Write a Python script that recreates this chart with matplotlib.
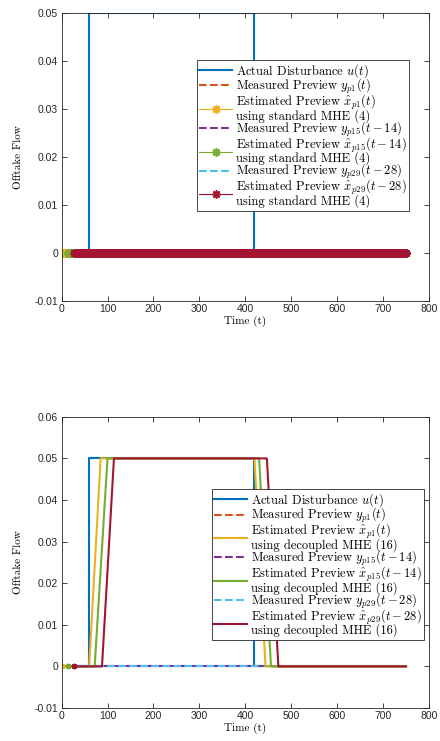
import numpy as np
import matplotlib
matplotlib.use("Agg")
import matplotlib.pyplot as plt
from matplotlib.lines import Line2D
from matplotlib.legend_handler import HandlerLine2D
from matplotlib.ticker import FixedLocator, FixedFormatter

plt.rcParams['mathtext.fontset'] = 'cm'
plt.rcParams['axes.unicode_minus'] = False

# ---------------- data ----------------
t_final = 750
# actual disturbance u(t): step breakpoints
u_t = [0, 60, 60, 420, 420, 750]
u_v = [0, 0, 0.05, 0.05, 0, 0]

# preview delays (start times of the shifted previews)
start_p1, start_p15, start_p29 = 0, 14, 28

# top panel: standard MHE estimates (all zero)
std_est_value = 0.0
# measured previews shown (zero)
meas_value = 0.0
meas_end_bottom = 437

# bottom panel: decoupled MHE estimates (breakpoints)
dec_p1_t = [0, 60, 85, 420, 444, 750]
dec_p1_v = [0, 0, 0.05, 0.05, 0, 0]
dec_p15_t = [14, 72, 100, 430, 456, 750]
dec_p15_v = [0, 0, 0.05, 0.05, 0, 0]
dec_p29_t = [28, 88, 114, 447, 472, 750]
dec_p29_v = [0, 0, 0.05, 0.05, 0, 0]

xticks = [0, 100, 200, 300, 400, 500, 600, 700, 800]
yticks_top = [-0.01, 0, 0.01, 0.02, 0.03, 0.04, 0.05]
yticks_bot = [-0.01, 0, 0.01, 0.02, 0.03, 0.04, 0.05, 0.06]
ytick_labels_top = ['-0.01', '0', '0.01', '0.02', '0.03', '0.04', '0.05']
ytick_labels_bot = ['-0.01', '0', '0.01', '0.02', '0.03', '0.04', '0.05', '0.06']

lab_u = 'Actual Disturbance $u(t)$'
lab_m1 = 'Measured Preview $y_{p1}(t)$'
lab_m15 = 'Measured Preview $y_{p15}(t-14)$'
lab_m29 = 'Measured Preview $y_{p29}(t-28)$'
lab_e1 = 'Estimated Preview $\\hat{x}_{p1}(t)$'
lab_e15 = 'Estimated Preview $\\hat{x}_{p15}(t-14)$'
lab_e29 = 'Estimated Preview $\\hat{x}_{p29}(t-28)$'
lab_std = 'using standard MHE (4)'
lab_dec = 'using decoupled MHE (16)'

# ---------------- style ----------------
C_BLUE = '#0072BD'
C_ORANGE = '#D95319'
C_YELLOW = '#EDB120'
C_PURPLE = '#7E2F8E'
C_GREEN = '#77AC30'
C_CYAN = '#4DBEEE'
C_RED = '#A2142F'
AX_COL = '#262626'
TXT_FONT = 'cmr10'
TICK_FONT = 'Liberation Sans'
FS_TXT = 8
FS_LEG = 9
FS_TICK = 7.5
ROW_SHIFT_PT = 5.35   # half a legend row, to centre handles of two-line entries


class ShiftedHandler(HandlerLine2D):
    def __init__(self, shift, **kw):
        super().__init__(**kw)
        self.shift = shift

    def create_artists(self, legend, orig_handle, xdescent, ydescent, width,
                       height, fontsize, trans):
        return super().create_artists(legend, orig_handle, xdescent,
                                      ydescent + 2 * self.shift, width, height,
                                      fontsize, trans)


fig = plt.figure(figsize=(4.40, 7.41), dpi=100)
ax1 = fig.add_axes([0.140, 0.594, 0.835, 0.389])
ax2 = fig.add_axes([0.140, 0.0445, 0.835, 0.393])


def style_axes(ax, yticks, ylabels, ylim):
    ax.set_xlim(0, 800)
    ax.set_ylim(*ylim)
    ax.xaxis.set_major_locator(FixedLocator(xticks))
    ax.xaxis.set_major_formatter(FixedFormatter([str(v) for v in xticks]))
    ax.yaxis.set_major_locator(FixedLocator(yticks))
    ax.yaxis.set_major_formatter(FixedFormatter(ylabels))
    ax.tick_params(direction='in', top=True, right=True, length=3.5, width=0.6,
                   color=AX_COL, labelsize=FS_TICK, labelcolor=AX_COL, pad=2.5)
    for lab in ax.get_xticklabels() + ax.get_yticklabels():
        lab.set_fontfamily(TICK_FONT)
    for sp in ax.spines.values():
        sp.set_color(AX_COL)
        sp.set_linewidth(0.6)
    ax.set_ylabel('Offtake Flow', fontfamily=TXT_FONT, fontsize=FS_TXT, labelpad=8)
    ax.set_xlabel('Time (t)', fontfamily=TXT_FONT, fontsize=FS_TXT, labelpad=1)


def make_legend(ax, handles, labels, est_handles, anchor):
    hmap = {h: ShiftedHandler(ROW_SHIFT_PT) for h in est_handles}
    leg = ax.legend(handles, labels, handler_map=hmap, loc='upper left',
                    bbox_to_anchor=anchor,
                    prop={'family': TXT_FONT, 'size': FS_LEG},
                    fancybox=False, edgecolor=AX_COL, framealpha=1,
                    borderpad=0.2, labelspacing=-0.24, handlelength=2.65,
                    handletextpad=0.25, borderaxespad=0, numpoints=1)
    leg.get_frame().set_linewidth(0.6)
    return leg


lw = 1.5
ast = (8, 2, 0)

# ---------------- top panel ----------------
t_p1 = np.arange(start_p1, t_final + 1)
t_p15 = np.arange(start_p15, t_final + 1)
t_p29 = np.arange(start_p29, t_final + 1)

hu, = ax1.plot(u_t, u_v, color=C_BLUE, lw=lw)
hm1, = ax1.plot(t_p1, np.full(t_p1.shape, meas_value), color=C_ORANGE, lw=lw, ls='--')
he1, = ax1.plot(t_p1, np.full(t_p1.shape, std_est_value), color=C_YELLOW, lw=0.8,
                marker=ast, ms=6, mew=1.2)
hm15, = ax1.plot(t_p15, np.full(t_p15.shape, meas_value), color=C_PURPLE, lw=lw, ls='--')
he15, = ax1.plot(t_p15, np.full(t_p15.shape, std_est_value), color=C_GREEN, lw=0.8,
                 marker=ast, ms=6, mew=1.2)
hm29, = ax1.plot(t_p29, np.full(t_p29.shape, meas_value), color=C_CYAN, lw=lw, ls='--')
he29, = ax1.plot(t_p29, np.full(t_p29.shape, std_est_value), color=C_RED, lw=0.8,
                 marker=ast, ms=6, mew=1.2)

style_axes(ax1, yticks_top, ytick_labels_top, (-0.01, 0.05))
blank = Line2D([], [], ls='none', marker='none')
make_legend(ax1,
            [hu, hm1, he1, blank, hm15, he15, blank, hm29, he29, blank],
            [lab_u, lab_m1, lab_e1, lab_std, lab_m15, lab_e15, lab_std,
             lab_m29, lab_e29, lab_std],
            [he1, he15, he29], (0.368, 0.837))

# ---------------- bottom panel ----------------
t_m1 = np.array([start_p1, meas_end_bottom])
t_m15 = np.array([start_p15, meas_end_bottom])
t_m29 = np.array([start_p29, meas_end_bottom])

gu, = ax2.plot(u_t, u_v, color=C_BLUE, lw=lw)
gm1, = ax2.plot(t_m1, np.full(t_m1.shape, meas_value), color=C_ORANGE, lw=lw, ls='--')
ge1, = ax2.plot(dec_p1_t, dec_p1_v, color=C_YELLOW, lw=lw)
gm15, = ax2.plot(t_m15, np.full(t_m15.shape, meas_value), color=C_PURPLE, lw=lw, ls='--')
ge15, = ax2.plot(dec_p15_t, dec_p15_v, color=C_GREEN, lw=lw)
gm29, = ax2.plot(t_m29, np.full(t_m29.shape, meas_value), color=C_CYAN, lw=lw, ls='--')
ge29, = ax2.plot(dec_p29_t, dec_p29_v, color=C_RED, lw=lw)
# small start markers
for tt, vv, cc in [(dec_p1_t, dec_p1_v, C_YELLOW), (dec_p15_t, dec_p15_v, C_GREEN),
                   (dec_p29_t, dec_p29_v, C_RED)]:
    ax2.plot(tt[:1], vv[:1], ls='none', marker=ast, ms=4, mew=1.0, color=cc)

style_axes(ax2, yticks_bot, ytick_labels_bot, (-0.01, 0.06))
blank2 = Line2D([], [], ls='none', marker='none')
make_legend(ax2,
            [gu, gm1, ge1, blank2, gm15, ge15, blank2, gm29, ge29, blank2],
            [lab_u, lab_m1, lab_e1, lab_dec, lab_m15, lab_e15, lab_dec,
             lab_m29, lab_e29, lab_dec],
            [ge1, ge15, ge29], (0.409, 0.753))

fig.savefig('out.png', dpi=100)
